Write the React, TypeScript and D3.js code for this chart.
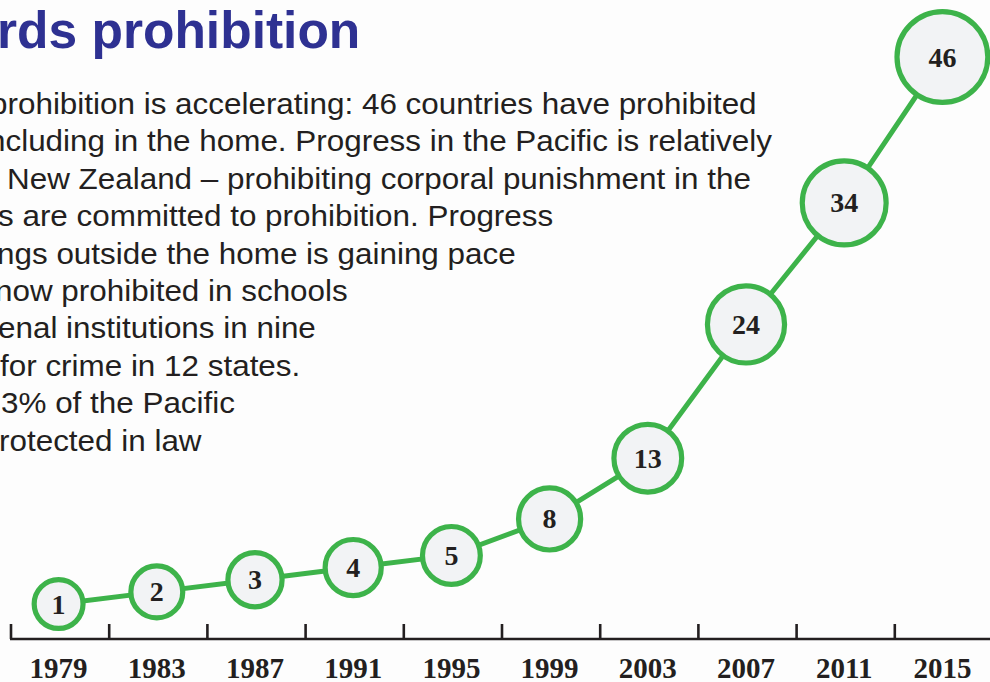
import * as d3 from "d3";

// Countries with full prohibition, by year
const years = ["1979", "1983", "1987", "1991", "1995", "1999", "2003", "2007", "2011", "2015"];
const counts = [1, 2, 3, 4, 5, 8, 13, 24, 34, 46];

const titleText = "rds prohibition";
const bodyLines = [
  { text: "prohibition is accelerating: 46 countries have prohibited", dx: -10 },
  { text: "including in the home. Progress in the Pacific is relatively", dx: -19 },
  { text: "New Zealand – prohibiting corporal punishment in the", dx: 7 },
  { text: "s are committed to prohibition. Progress", dx: -2 },
  { text: "ngs outside the home is gaining pace", dx: -3 },
  { text: "now prohibited in schools", dx: -5 },
  { text: "enal institutions in nine", dx: -2 },
  { text: "for crime in 12 states.", dx: 0 },
  { text: "3% of the Pacific", dx: 1 },
  { text: "rotected in law", dx: -1 },
];

const W = 990;
const H = 682;
const GREEN = "#3db34a";
const INK = "#231f20";
const SX = 1.065; // body copy is set a little wider than Arial

export default function App() {
  const x = d3.scaleBand<string>().domain(years).range([11, 993]);
  const y = d3.scaleLinear().domain([0, 46]).range([616.2, 57]);
  const r = d3.scaleSqrt().domain([0, 46]).range([23.4, 48]);

  const pts = years.map((yr, i) => ({
    yr,
    v: counts[i],
    cx: (x(yr) ?? 0) + x.bandwidth() / 2 - 1.5,
    cy: y(counts[i]),
  }));

  const line = d3
    .line<(typeof pts)[number]>()
    .x((d) => d.cx)
    .y((d) => d.cy);

  const axisY = 639;

  return (
    <div style={{ position: "absolute", left: 0, top: 0 }}>
      <svg width={W} height={H} style={{ display: "block", background: "#fdfdfd" }}>
        <text
          x={-3}
          y={48}
          fontFamily="'Liberation Sans', Arial, sans-serif"
          fontWeight="bold"
          fontSize={51.5}
          fill="#2e3192"
        >
          {titleText}
        </text>

        <g transform={`scale(${SX},1)`}>
          {bodyLines.map((l, i) => (
            <text
              key={i}
              x={l.dx / SX}
              y={114 + i * 37.4}
              fontFamily="'Liberation Sans', Arial, sans-serif"
              fontSize={29.5}
              fill={INK}
            >
              {l.text}
            </text>
          ))}
        </g>

        {/* axis */}
        <line x1={10} x2={W} y1={axisY} y2={axisY} stroke={INK} strokeWidth={2.6} />
        {years.map((yr) => (
          <line
            key={yr}
            x1={x(yr)}
            x2={x(yr)}
            y1={624}
            y2={axisY}
            stroke={INK}
            strokeWidth={2.6}
          />
        ))}
        {pts.map((p) => (
          <text
            key={p.yr}
            x={p.cx}
            y={678}
            textAnchor="middle"
            fontFamily="'Liberation Serif', 'Times New Roman', serif"
            fontWeight="bold"
            fontSize={29}
            fill={INK}
          >
            {p.yr}
          </text>
        ))}

        <path d={line(pts) ?? ""} fill="none" stroke={GREEN} strokeWidth={5} />

        {pts.map((p) => (
          <g key={p.yr} transform={`translate(${p.cx},${p.cy})`}>
            <circle r={r(p.v) - 2.6} fill="#f2f3f5" stroke={GREEN} strokeWidth={5.2} />
            <text
              y={9.5}
              textAnchor="middle"
              fontFamily="'Liberation Serif', 'Times New Roman', serif"
              fontWeight="bold"
              fontSize={28}
              fill={INK}
            >
              {p.v}
            </text>
          </g>
        ))}
      </svg>
    </div>
  );
}
